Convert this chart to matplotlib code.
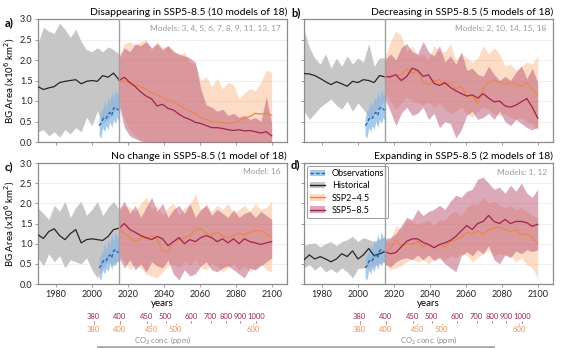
import numpy as np
import matplotlib.pyplot as plt
from matplotlib.patches import Patch
from matplotlib.lines import Line2D

plt.rcParams['font.family'] = ['Lato', 'DejaVu Sans']

hist_years = np.arange(1970, 2016, 3)
fut_years = np.linspace(2015, 2100, 29)
obs_years = np.arange(2004, 2016)

# observed BG area (same satellite record in every panel)
obs_mean = [0.40, 0.45, 0.55, 0.60, 0.58, 0.68, 0.72, 0.65, 0.82, 0.85, 0.80, 0.78]
obs_lo = [0.15, 0.10, 0.35, 0.25, 0.40, 0.30, 0.50, 0.35, 0.55, 0.45, 0.60, 0.50]
obs_hi = [0.60, 0.75, 0.80, 1.00, 0.85, 1.10, 1.00, 1.25, 1.05, 1.30, 1.15, 1.20]

# a) disappearing
a_hist_mean = [1.35, 1.28, 1.32, 1.35, 1.45, 1.48, 1.50, 1.52, 1.42, 1.48, 1.50, 1.48, 1.62, 1.58, 1.68, 1.52]
a_hist_hi = [2.40, 2.80, 2.70, 2.65, 2.90, 2.75, 2.55, 2.75, 2.45, 2.25, 2.20, 2.30, 2.20, 2.32, 2.25, 2.15]
a_hist_lo = [0.25, 0.30, 0.15, 0.25, 0.12, 0.30, 0.20, 0.35, 0.25, 0.60, 0.40, 0.75, 0.45, 0.55, 0.70, 0.85]
a_245_mean = [1.50, 1.48, 1.45, 1.40, 1.35, 1.28, 1.20, 1.15, 1.08, 1.02, 0.98, 0.90, 0.82, 0.75, 0.70,
              0.60, 0.55, 0.50, 0.48, 0.48, 0.45, 0.47, 0.52, 0.58, 0.62, 0.70, 0.68, 0.70, 0.65]
a_245_hi = [2.10, 2.40, 2.45, 2.35, 2.45, 2.50, 2.20, 2.45, 2.30, 2.35, 2.25, 2.10, 2.20, 1.95, 1.90,
            1.50, 1.60, 1.35, 1.55, 1.30, 1.45, 1.40, 1.05, 1.20, 1.30, 1.25, 1.45, 1.75, 1.70]
a_245_lo = [1.00, 0.55, 0.30, 0.15, 0.05, 0.02, 0.00, 0.00, 0.00, 0.00, 0.00, 0.00, 0.00, 0.00, 0.00,
            0.00, 0.00, 0.00, 0.00, 0.00, 0.00, 0.00, 0.00, 0.00, 0.00, 0.00, 0.00, 0.00, 0.00]
a_585_mean = [1.50, 1.58, 1.45, 1.35, 1.22, 1.12, 1.05, 0.88, 0.92, 0.82, 0.78, 0.68, 0.60, 0.55, 0.48,
              0.45, 0.40, 0.35, 0.35, 0.33, 0.30, 0.28, 0.30, 0.27, 0.28, 0.25, 0.22, 0.25, 0.15]
a_585_hi = [2.05, 2.30, 2.20, 2.40, 2.35, 2.45, 2.30, 2.40, 2.25, 2.35, 2.20, 2.15, 2.10, 2.05, 1.95,
            1.30, 0.90, 0.85, 0.75, 0.80, 0.65, 0.70, 0.60, 0.65, 0.55, 0.60, 0.50, 1.10, 0.45]
a_585_lo = [0.90, 0.35, 0.15, 0.08, 0.02, 0.00, 0.00, 0.00, 0.00, 0.00, 0.00, 0.00, 0.00, 0.00, 0.00,
            0.00, 0.00, 0.00, 0.00, 0.00, 0.00, 0.00, 0.00, 0.00, 0.00, 0.00, 0.00, 0.00, 0.00]

# b) decreasing
b_hist_mean = [1.67, 1.66, 1.62, 1.55, 1.47, 1.40, 1.47, 1.42, 1.36, 1.48, 1.45, 1.52, 1.50, 1.45, 1.62, 1.59]
b_hist_hi = [2.75, 2.30, 2.05, 1.90, 2.15, 1.80, 2.05, 1.85, 2.10, 1.90, 2.05, 1.95, 2.40, 1.85, 2.05, 2.05]
b_hist_lo = [0.75, 0.55, 0.70, 0.85, 0.95, 1.05, 0.90, 0.80, 1.00, 0.75, 0.95, 0.80, 0.60, 0.70, 0.85, 1.05]
b_245_mean = [1.59, 1.62, 1.63, 1.65, 1.78, 1.68, 1.74, 1.45, 1.40, 1.49, 1.52, 1.40, 1.44, 1.30, 1.36,
              1.12, 1.12, 0.95, 1.30, 1.45, 1.52, 1.45, 1.40, 1.44, 1.42, 1.35, 1.45, 1.30, 1.15]
b_245_hi = [2.05, 2.45, 2.70, 2.60, 2.20, 2.35, 2.10, 2.15, 2.00, 2.35, 2.20, 2.20, 2.40, 2.00, 2.15,
            2.05, 1.95, 2.05, 2.35, 2.15, 2.30, 2.15, 1.85, 1.90, 1.75, 1.85, 1.95, 1.90, 2.10]
b_245_lo = [1.20, 1.00, 0.80, 0.95, 1.10, 1.00, 0.95, 0.90, 0.98, 0.85, 0.95, 0.80, 0.70, 0.75, 0.85,
            0.70, 0.60, 0.75, 0.85, 0.80, 0.70, 0.65, 0.70, 0.60, 0.55, 0.60, 0.50, 0.45, 0.30]
b_585_mean = [1.59, 1.59, 1.64, 1.50, 1.60, 1.80, 1.75, 1.60, 1.64, 1.43, 1.38, 1.45, 1.33, 1.25, 1.18,
              1.12, 1.15, 1.07, 1.18, 1.07, 0.98, 1.00, 0.88, 0.85, 0.90, 0.98, 1.06, 0.85, 0.58]
b_585_hi = [2.00, 2.15, 2.00, 2.30, 2.40, 2.20, 2.15, 2.45, 2.20, 2.10, 2.35, 1.95, 2.10, 1.90, 2.20,
            1.75, 1.80, 1.65, 1.60, 1.85, 1.65, 1.50, 1.60, 1.50, 1.70, 1.85, 1.55, 1.80, 1.45]
b_585_lo = [1.05, 0.75, 0.40, 0.70, 0.85, 0.65, 0.70, 0.85, 0.55, 0.70, 0.35, 0.50, 0.45, 0.10, 0.30,
            0.65, 0.75, 0.55, 0.60, 0.70, 0.55, 0.75, 0.50, 0.40, 0.55, 0.45, 0.35, 0.30, 0.35]

# c) no change
c_hist_mean = [1.22, 1.13, 1.30, 1.37, 1.20, 1.10, 1.25, 1.35, 1.02, 1.10, 1.12, 1.10, 1.08, 1.18, 1.35, 1.38]
c_hist_hi = [1.88, 1.75, 1.60, 1.95, 1.80, 2.05, 1.65, 1.90, 2.05, 1.70, 1.85, 2.05, 1.70, 1.90, 2.05, 1.85]
c_hist_lo = [0.65, 0.45, 0.75, 0.55, 0.70, 0.40, 0.60, 0.55, 0.50, 0.65, 0.35, 0.15, 0.40, 0.55, 0.45, 0.60]
c_245_mean = [1.38, 1.25, 1.15, 1.05, 1.15, 1.12, 1.20, 1.10, 0.82, 0.80, 1.05, 1.10, 1.15, 1.20, 1.35,
              1.38, 1.25, 1.22, 1.28, 1.18, 1.15, 1.20, 1.25, 1.22, 1.28, 1.33, 1.32, 1.25, 1.15]
c_245_hi = [1.80, 1.95, 1.90, 1.80, 2.00, 2.15, 1.85, 1.95, 1.70, 1.90, 2.00, 1.70, 1.90, 1.95, 2.25,
            1.80, 2.00, 1.80, 1.95, 1.85, 2.00, 1.75, 1.85, 1.95, 1.80, 2.00, 1.85, 1.90, 2.05]
c_245_lo = [0.75, 0.55, 0.35, 0.50, 0.40, 0.25, 0.20, 0.15, 0.30, 0.45, 0.50, 0.40, 0.55, 0.45, 0.60,
            0.40, 0.35, 0.50, 0.45, 0.30, 0.40, 0.50, 0.35, 0.45, 0.30, 0.40, 0.50, 0.35, 0.30]
c_585_mean = [1.38, 1.50, 1.35, 1.28, 1.20, 1.15, 1.10, 1.18, 1.12, 0.95, 1.05, 1.15, 1.00, 1.10, 1.05,
              1.15, 1.20, 1.15, 1.05, 1.12, 1.02, 1.12, 1.00, 1.12, 1.05, 1.02, 0.98, 1.02, 1.05]
c_585_hi = [1.85, 2.05, 1.75, 1.95, 1.65, 1.90, 2.15, 1.80, 2.00, 1.65, 1.85, 1.95, 1.75, 2.00, 1.65,
            1.85, 1.95, 1.70, 1.85, 1.75, 1.65, 1.85, 1.65, 1.75, 1.80, 1.65, 1.80, 1.70, 1.60]
c_585_lo = [0.65, 0.40, 0.60, 0.35, 0.50, 0.30, 0.55, 0.45, 0.40, 0.60, 0.25, 0.10, 0.35, 0.20, 0.25,
            0.45, 0.55, 0.35, 0.30, 0.40, 0.45, 0.35, 0.25, 0.15, 0.40, 0.35, 0.45, 0.55, 0.65]

# d) expanding
d_hist_mean = [0.60, 0.72, 0.62, 0.68, 0.62, 0.55, 0.62, 0.75, 0.68, 0.82, 0.62, 0.72, 0.88, 0.70, 0.75, 0.80]
d_hist_hi = [0.95, 1.00, 1.02, 0.92, 1.00, 1.05, 0.95, 1.05, 1.10, 1.18, 1.05, 1.15, 1.10, 1.05, 1.12, 1.15]
d_hist_lo = [0.40, 0.48, 0.35, 0.45, 0.30, 0.38, 0.28, 0.40, 0.30, 0.15, 0.38, 0.40, 0.42, 0.45, 0.50, 0.55]
d_245_mean = [0.80, 0.88, 1.10, 0.95, 1.00, 0.98, 1.05, 0.92, 0.98, 0.90, 0.98, 0.92, 1.05, 1.10, 1.15,
              1.28, 1.25, 1.32, 1.22, 1.35, 1.38, 1.42, 1.35, 1.30, 1.35, 1.22, 1.25, 1.15, 1.02]
d_245_hi = [1.05, 1.10, 1.45, 1.35, 1.60, 1.55, 1.48, 1.55, 1.58, 1.45, 1.60, 1.58, 1.75, 1.80, 1.70,
            1.90, 2.00, 1.95, 2.15, 2.00, 2.05, 1.95, 1.88, 1.95, 1.85, 1.90, 1.80, 1.70, 1.65]
d_245_lo = [0.50, 0.35, 0.40, 0.45, 0.55, 0.62, 0.55, 0.60, 0.50, 0.62, 0.68, 0.58, 0.70, 0.65, 0.75,
            0.72, 0.55, 0.65, 0.75, 0.85, 0.70, 0.75, 0.72, 0.70, 0.55, 0.65, 0.48, 0.40, 0.15]
d_585_mean = [0.80, 0.75, 0.78, 0.92, 1.06, 1.12, 1.12, 1.03, 0.98, 0.90, 0.98, 1.02, 1.08, 1.18, 1.32,
              1.45, 1.35, 1.50, 1.55, 1.70, 1.55, 1.50, 1.60, 1.50, 1.55, 1.55, 1.52, 1.43, 1.48]
d_585_hi = [1.12, 1.15, 1.25, 1.45, 1.65, 1.60, 1.85, 1.70, 1.80, 1.85, 1.95, 1.85, 2.05, 2.20, 2.15,
            2.30, 2.35, 2.60, 2.65, 2.50, 2.35, 2.40, 2.25, 2.45, 2.30, 2.50, 2.25, 2.15, 2.35]
d_585_lo = [0.50, 0.42, 0.55, 0.62, 0.65, 0.60, 0.72, 0.60, 0.72, 0.58, 0.65, 0.50, 0.40, 0.30, 0.70,
            0.80, 0.70, 0.85, 0.75, 0.95, 0.60, 0.50, 0.72, 0.65, 0.82, 0.75, 0.85, 0.80, 0.85]

titles = ['Disappearing in SSP5-8.5 (10 models of 18)', 'Decreasing in SSP5-8.5 (5 models of 18)',
          'No change in SSP5-8.5 (1 model of 18)', 'Expanding in SSP5-8.5 (2 models of 18)']
model_notes = ['Models: 3, 4, 5, 6, 7, 8, 9, 11, 13, 17', 'Models: 2, 10, 14, 15, 18',
               'Model: 16', 'Models: 1, 12']
panel_tags = ['a)', 'b)', 'c)', 'd)']

# CO2 concentration reached in each scenario, and the year it is reached
co2_585 = [380, 400, 450, 500, 600, 700, 800, 900, 1000]
co2_585_year = [2001, 2015.5, 2030.5, 2041, 2055, 2066, 2074.5, 2082.5, 2091.5]
co2_245 = [380, 400, 450, 500, 600]
co2_245_year = [2001, 2015.5, 2033, 2046.5, 2089.5]

panels = [
    (a_hist_mean, a_hist_lo, a_hist_hi, a_245_mean, a_245_lo, a_245_hi, a_585_mean, a_585_lo, a_585_hi),
    (b_hist_mean, b_hist_lo, b_hist_hi, b_245_mean, b_245_lo, b_245_hi, b_585_mean, b_585_lo, b_585_hi),
    (c_hist_mean, c_hist_lo, c_hist_hi, c_245_mean, c_245_lo, c_245_hi, c_585_mean, c_585_lo, c_585_hi),
    (d_hist_mean, d_hist_lo, d_hist_hi, d_245_mean, d_245_lo, d_245_hi, d_585_mean, d_585_lo, d_585_hi),
]

HIST_FILL, HIST_LINE = '#c6c6c6', '#262626'
S245_FILL, S245_LINE = '#fa9b5c', '#eb874c'
S585_FILL, S585_LINE = '#b95573', '#a0244c'
OBS_FILL, OBS_LINE = '#8db7e2', '#2767b0'
RED_TXT, ORANGE_TXT = '#9e2a4a', '#e8935a'

W, H = 565, 348
fig = plt.figure(figsize=(W / 100, H / 100), dpi=100)

def fx(px):
    return px / W

def fy(py):
    return 1 - py / H

rects = [
    [fx(38), fy(142), fx(249), 123 / H],
    [fx(304), fy(142), fx(249), 123 / H],
    [fx(38), fy(284), fx(249), 121 / H],
    [fx(304), fy(284), fx(249), 121 / H],
]
tag_pos = [(5, 23), (291, 13), (5, 167), (291, 165)]

axes = []
for i, (rect, data) in enumerate(zip(rects, panels)):
    hm, hl, hh, m245, l245, h245, m585, l585, h585 = data
    ax = fig.add_axes(rect)
    axes.append(ax)

    ax.fill_between(hist_years, hl, hh, color=HIST_FILL, lw=0, zorder=1)
    ax.fill_between(fut_years, l245, h245, color=S245_FILL, alpha=0.35, lw=0, zorder=2)
    ax.fill_between(fut_years, l585, h585, color=S585_FILL, alpha=0.5, lw=0, zorder=3)
    ax.fill_between(obs_years, obs_lo, obs_hi, color=OBS_FILL, alpha=0.75, lw=0, zorder=4)
    ax.plot(hist_years, hm, color=HIST_LINE, lw=0.9, zorder=5)
    ax.plot(fut_years, m245, color=S245_LINE, lw=0.9, zorder=6)
    ax.plot(fut_years, m585, color=S585_LINE, lw=0.9, zorder=7)
    ax.plot(obs_years, obs_mean, color=OBS_LINE, lw=1.0, ls=(0, (2.5, 1.5)), zorder=8)
    ax.axvline(2015, color='#a0a0a0', lw=1.0, zorder=9)

    ax.set_xlim(1970, 2108.5)
    ax.set_ylim(0, 3)
    ax.set_yticks(np.arange(0, 3.01, 0.5))
    ax.set_xticks(np.arange(1980, 2101, 20))
    ax.grid(axis='y', color='#ececec', lw=0.6, zorder=0)
    ax.set_axisbelow(True)
    for sp in ax.spines.values():
        sp.set_color('#8c8c8c')
        sp.set_linewidth(0.9)
    ax.tick_params(length=2.5, width=0.6, color='#8c8c8c', labelsize=6.5, pad=1.5,
                   labelcolor='#222222')
    if i in (1, 3):
        ax.tick_params(labelleft=False)
    else:
        ax.set_ylabel('BG Area (x10$^6$ km$^2$)', fontsize=7, labelpad=2)
    if i in (0, 1):
        ax.tick_params(labelbottom=False)
    else:
        ax.set_xlabel('years', fontsize=7, labelpad=0)

    ax.set_title(titles[i], loc='right', fontsize=7.5, pad=3)
    ax.text(0.975, 0.955, model_notes[i], transform=ax.transAxes, ha='right', va='top',
            fontsize=6, color='#9a9a9a')
    tx, ty = tag_pos[i]
    fig.text(fx(tx), fy(ty), panel_tags[i], fontsize=8, fontweight='bold', va='center')

handles = [
    (Patch(facecolor=OBS_FILL, alpha=0.75), Line2D([], [], color=OBS_LINE, lw=1, ls=(0, (2.5, 1.5)))),
    (Patch(facecolor=HIST_FILL), Line2D([], [], color=HIST_LINE, lw=1)),
    (Patch(facecolor=S245_FILL, alpha=0.35), Line2D([], [], color=S245_LINE, lw=1)),
    (Patch(facecolor=S585_FILL, alpha=0.5), Line2D([], [], color=S585_LINE, lw=1)),
]
leg = axes[3].legend(handles, ['Observations', 'Historical', 'SSP2\u20134.5', 'SSP5\u20138.5'],
                     loc='upper left', fontsize=6.5, handlelength=1.6, handleheight=0.7,
                     borderpad=0.4, labelspacing=0.35, borderaxespad=0.3, framealpha=1,
                     fancybox=True)
leg.get_frame().set_edgecolor('#9a9a9a')
leg.get_frame().set_linewidth(0.7)

# CO2 scales under each column
for col_left in (38, 304):
    rect = [fx(col_left), fy(323), fx(249), 0.0001]
    top = fig.add_axes(rect, frameon=False)
    bot = fig.add_axes(rect, frameon=False)
    for cax in (top, bot):
        cax.set_xlim(1970, 2108.5)
        cax.set_yticks([])
        cax.patch.set_visible(False)
    top.spines['bottom'].set_visible(True)
    top.spines['bottom'].set_bounds(1970, 2100)
    top.spines['bottom'].set_color('#c8c8c8')
    top.spines['bottom'].set_linewidth(0.8)
    top.xaxis.set_ticks_position('top')
    top.set_xticks(co2_585_year, [str(v) for v in co2_585])
    top.tick_params(axis='x', length=1.5, width=0.5, color=RED_TXT, labelcolor=RED_TXT,
                    labelsize=5.5, pad=0.4, direction='out')
    bot.xaxis.set_ticks_position('bottom')
    bot.set_xticks(co2_245_year, [str(v) for v in co2_245])
    bot.tick_params(axis='x', length=1.5, width=0.5, color=ORANGE_TXT, labelcolor=ORANGE_TXT,
                    labelsize=5.5, pad=0.4, direction='out')
    bot.set_xlabel('CO$_2$ conc. (ppm)', fontsize=5.5, color='#8a8a8a', labelpad=0.8)

fig.add_artist(Line2D([fx(98), fx(493)], [fy(346.5), fy(346.5)], color='#a8a8a8', lw=2))

fig.savefig('out.png', dpi=100)
